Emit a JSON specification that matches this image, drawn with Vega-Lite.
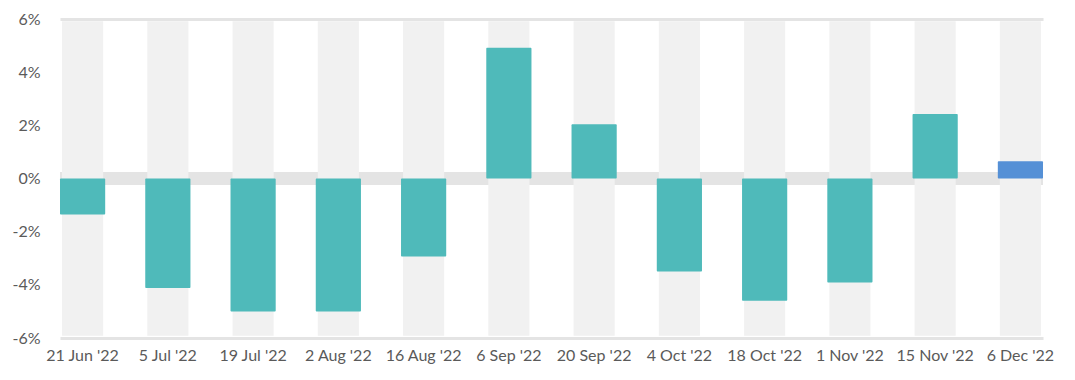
{
  "$schema": "https://vega.github.io/schema/vega-lite/v6.json",
  "width": 983,
  "height": 319,
  "autosize": {"type": "none"},
  "padding": {"left": 60, "top": 19, "right": 32, "bottom": 42},
  "background": "white",
  "config": {
    "view": {"stroke": null},
    "font": "Lato",
    "axis": {"labelFont": "Lato", "labelFontSize": 16, "labelColor": "#5a5a5a"}
  },
  "data": {
    "values": [
      {"date": "21 Jun '22", "change": -1.35, "status": "past"},
      {"date": "5 Jul '22", "change": -4.12, "status": "past"},
      {"date": "19 Jul '22", "change": -5.0, "status": "past"},
      {"date": "2 Aug '22", "change": -5.0, "status": "past"},
      {"date": "16 Aug '22", "change": -2.93, "status": "past"},
      {"date": "6 Sep '22", "change": 4.92, "status": "past"},
      {"date": "20 Sep '22", "change": 2.04, "status": "past"},
      {"date": "4 Oct '22", "change": -3.5, "status": "past"},
      {"date": "18 Oct '22", "change": -4.6, "status": "past"},
      {"date": "1 Nov '22", "change": -3.91, "status": "past"},
      {"date": "15 Nov '22", "change": 2.43, "status": "past"},
      {"date": "6 Dec '22", "change": 0.65, "status": "latest"}
    ]
  },
  "encoding": {
    "x": {
      "field": "date",
      "type": "nominal",
      "sort": null,
      "scale": {"paddingInner": 0.47, "paddingOuter": 0},
      "axis": {"title": null, "labelAngle": 0, "domain": false, "ticks": false, "labelPadding": 9}
    }
  },
  "layer": [
    {
      "mark": {"type": "rule", "color": "#e4e4e4", "strokeWidth": 12},
      "encoding": {
        "x": null,
        "y": {
          "datum": 0,
          "type": "quantitative",
          "scale": {"domain": [-6, 6], "nice": false, "zero": false},
          "axis": {
            "title": null,
            "values": [-6, -4, -2, 0, 2, 4, 6],
            "labelExpr": "datum.value + '%'",
            "domain": false,
            "ticks": false,
            "labelPadding": 20,
            "grid": true,
            "gridColor": "#e4e4e4",
            "gridWidth": 3,
            "gridOpacity": {"condition": {"test": "abs(datum.value) == 6", "value": 1}, "value": 0}
          }
        }
      }
    },
    {
      "mark": {"type": "bar", "color": "#f1f1f1", "width": {"band": 0.91}},
      "encoding": {
        "y": {"datum": 5.92, "type": "quantitative"},
        "y2": {"datum": -5.92}
      }
    },
    {
      "mark": {"type": "bar", "cornerRadius": 1},
      "encoding": {
        "y": {"field": "change", "type": "quantitative"},
        "y2": {"datum": 0},
        "color": {
          "field": "status",
          "type": "nominal",
          "scale": {"domain": ["past", "latest"], "range": ["#4fbaba", "#5590d6"]},
          "legend": null
        }
      }
    }
  ]
}
